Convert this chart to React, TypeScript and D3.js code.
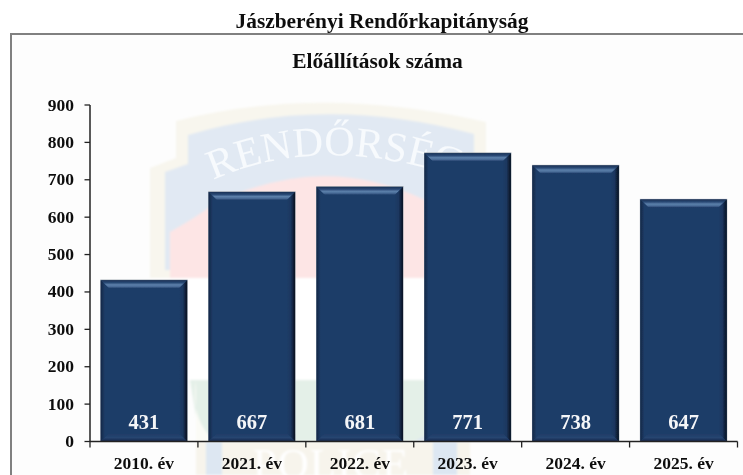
import React from "react";
import * as d3 from "d3";

const categories = ["2010. év", "2021. év", "2022. év", "2023. év", "2024. év", "2025. év"];
const values = [431, 667, 681, 771, 738, 647];
const yTicks = [0, 100, 200, 300, 400, 500, 600, 700, 800, 900];
const mainTitle = "Jászberényi Rendőrkapitányság";
const subTitle = "Előállítások száma";

const W = 743, H = 475;
const F = "'Liberation Serif', 'Times New Roman', serif";
const x = d3.scaleBand<string>().domain(categories).range([90, 737.5]).paddingInner(0.2).paddingOuter(0.1);
const y = d3.scaleLinear().domain([0, 900]).range([441.5, 105]);

function Bar({ c, v }: { c: string; v: number }) {
  const l = x(c)!, w = x.bandwidth(), r = l + w, t = y(v), b = y(0);
  const bev = 8;
  return (
    <g>
      <rect x={l - 0.5} y={t - 0.7} width={w + 1} height={b - t + 0.7} fill="#8a929c" />
      <rect x={l} y={t} width={w} height={b - t} fill="#1e3c67" />
      <polygon points={`${l},${t} ${r},${t} ${r - bev},${t + bev} ${l + bev},${t + bev}`} fill="url(#bevTop)" />
      <polygon points={`${r},${t} ${r},${b} ${r - bev},${b - bev} ${r - bev},${t + bev}`} fill="url(#bevRight)" />
      <polygon points={`${l},${t} ${l},${b} ${l + bev},${b - bev} ${l + bev},${t + bev}`} fill="url(#bevLeft)" />
      <polygon points={`${l},${b} ${r},${b} ${r - bev},${b - bev} ${l + bev},${b - bev}`} fill="url(#bevBottom)" />
      <text x={l + w / 2} y={429} textAnchor="middle" fontFamily={F} fontWeight="bold" fontSize={20.5} fill="#f4f6f8">{v}</text>
    </g>
  );
}

export default function App() {
  return (
    <svg width={W} height={H} viewBox={`0 0 ${W} ${H}`} style={{ position: "fixed", left: 0, top: 0, background: "#fff" }}>
      <defs>
        <linearGradient id="bevTop" x1="0" y1="0" x2="0" y2="1">
          <stop offset="0" stopColor="#1a3256" />
          <stop offset="0.3" stopColor="#2a4a76" />
          <stop offset="0.55" stopColor="#5c80aa" />
          <stop offset="0.78" stopColor="#4a6c98" />
          <stop offset="1" stopColor="#1f3d68" />
        </linearGradient>
        <linearGradient id="bevRight" x1="0" y1="0" x2="1" y2="0">
          <stop offset="0" stopColor="#1e3c67" />
          <stop offset="0.45" stopColor="#1c3760" />
          <stop offset="0.8" stopColor="#0e1e36" />
          <stop offset="1" stopColor="#081320" />
        </linearGradient>
        <linearGradient id="bevLeft" x1="0" y1="0" x2="1" y2="0">
          <stop offset="0" stopColor="#142847" />
          <stop offset="0.5" stopColor="#1e3c67" />
          <stop offset="1" stopColor="#1e3c67" />
        </linearGradient>
        <linearGradient id="bevBottom" x1="0" y1="0" x2="0" y2="1">
          <stop offset="0" stopColor="#1e3c67" />
          <stop offset="0.5" stopColor="#254570" />
          <stop offset="1" stopColor="#14264a" />
        </linearGradient>
        <filter id="soft" x="-5%" y="-5%" width="110%" height="110%">
          <feGaussianBlur stdDeviation="1.2" />
        </filter>
        <filter id="crisp" x="-2%" y="-2%" width="104%" height="104%">
          <feGaussianBlur stdDeviation="0.35" />
        </filter>
        <path id="arcText" d="M 213 180 Q 335 126 490 190" />
      </defs>

      <rect x={0} y={0} width={W} height={H} fill="#fff" />
      <rect x={10} y={34} width={W - 10} height={H - 34} fill="#fdfdfd" />

      {/* faded police badge behind the plot */}
      <g filter="url(#soft)">
        <path d="M 150 168 L 176 158 L 176 121 Q 320 84 486 122 L 486 158 L 490 300 L 150 300 Z" fill="#f8f6ee" />
        <path d="M 165 172 L 188 164 L 188 135 Q 325 94 474 134 L 474 164 L 492 178 L 492 270 L 165 270 Z" fill="#e1e9f3" />
        <path d="M 170 232 Q 200 215 212 205 Q 320 150 425 200 Q 470 220 490 240 L 490 278 L 170 278 Z" fill="#fde5e5" />
        <rect x={150} y={278} width={342} height={102} fill="#ffffff" />
        <path d="M 190 380 L 450 380 L 448 441 L 200 441 Z" fill="#e4f0e8" />
        <path d="M 196 380 Q 190 420 215 441 L 196 441 Z" fill="#fbfbf6" />
        <path d="M 415 441 L 440 428 L 440 441 Z" fill="#dde7f2" />
        <path d="M 196 442 L 470 442 L 470 475 L 196 475 Z" fill="#f7f4ec" />
        <rect x={206} y={442} width={16} height={33} fill="#dde7f2" />
        <rect x={433} y={442} width={24} height={33} fill="#dde7f2" />
        <text x={331} y={478} textAnchor="middle" fontFamily={F} fontSize={43} fill="#ffffff" letterSpacing={1}>POLICE</text>
      </g>
      <text fontFamily={F} fontSize={42} fill="#f7fafd" filter="url(#crisp)">
        <textPath href="#arcText">RENDŐRSÉG</textPath>
      </text>

      <rect x={10} y={33} width={W - 10} height={2} fill="#808080" />
      <rect x={10} y={33} width={2} height={H - 33} fill="#808080" />

      <g filter="url(#crisp)">
        <text x={382} y={27.5} textAnchor="middle" fontFamily={F} fontWeight="bold" fontSize={21.4} fill="#111">{mainTitle}</text>
        <text x={377.5} y={68} textAnchor="middle" fontFamily={F} fontWeight="bold" fontSize={21.4} fill="#111">{subTitle}</text>

        {values.map((v, i) => <Bar key={categories[i]} c={categories[i]} v={v} />)}

        <line x1={90} x2={90} y1={y(900)} y2={y(0)} stroke="#222" strokeWidth={1.5} />
        <line x1={90} x2={737.5} y1={y(0)} y2={y(0)} stroke="#222" strokeWidth={1.5} />
        {yTicks.map(t => (
          <g key={t}>
            <line x1={84.5} x2={90} y1={y(t)} y2={y(t)} stroke="#222" strokeWidth={1.3} />
            <text x={74} y={y(t) + 5.5} textAnchor="end" fontFamily={F} fontWeight="bold" fontSize={17.5} fill="#111">{t}</text>
          </g>
        ))}
        {d3.range(categories.length + 1).map(i => {
          const px = 90 + i * x.step();
          return <line key={i} x1={px} x2={px} y1={y(0)} y2={y(0) + 6} stroke="#222" strokeWidth={1.3} />;
        })}
        {categories.map(c => (
          <text key={c} x={x(c)! + x.bandwidth() / 2} y={469} textAnchor="middle" fontFamily={F} fontWeight="bold" fontSize={17.5} fill="#111">{c}</text>
        ))}
      </g>
    </svg>
  );
}
